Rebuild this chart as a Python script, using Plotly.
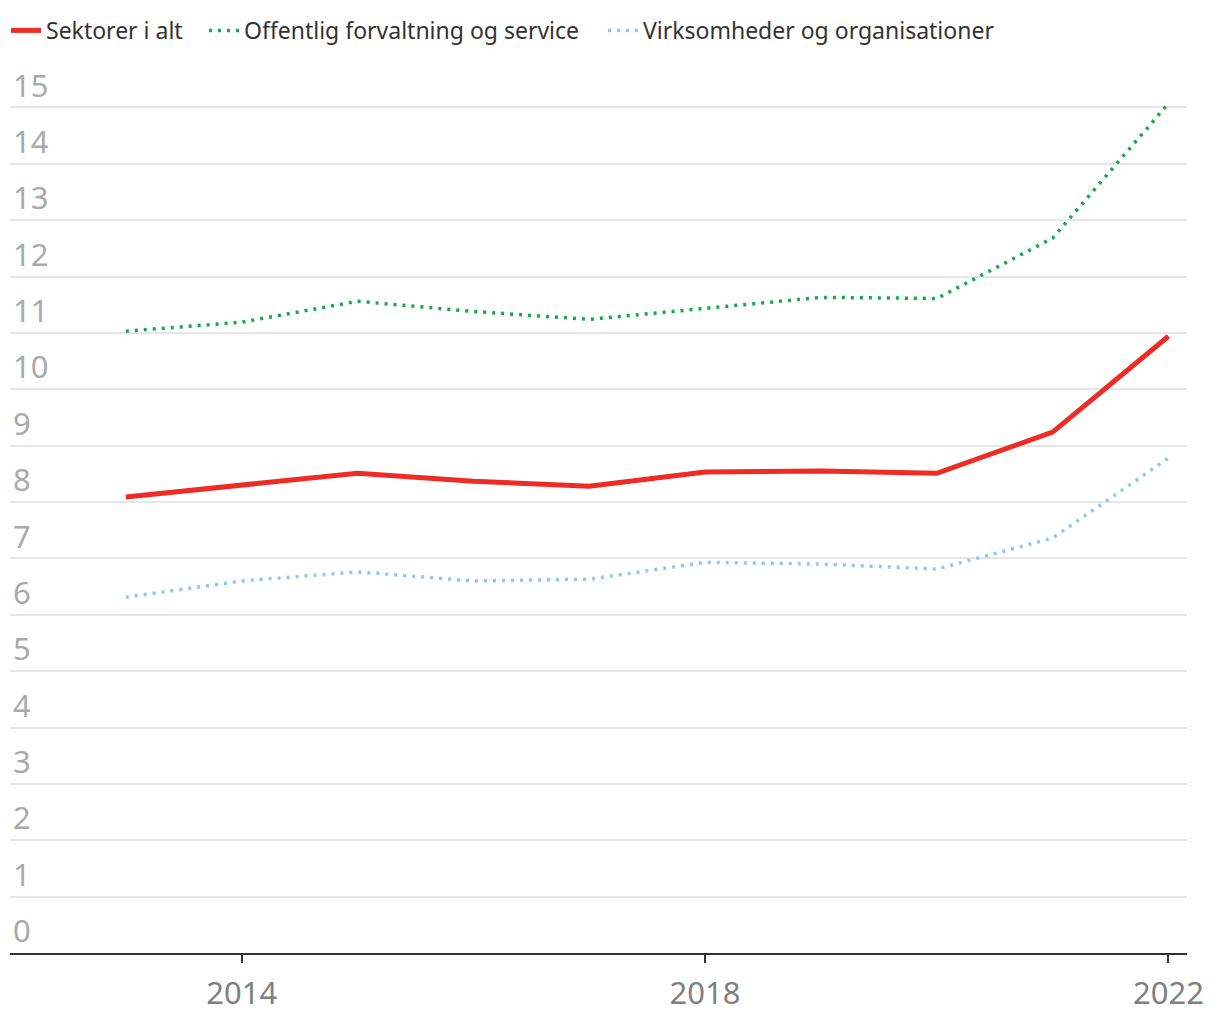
import plotly.graph_objects as go

years = [2013, 2014, 2015, 2016, 2017, 2018, 2019, 2020, 2021, 2022]
sektorer = [8.09, 8.30, 8.51, 8.37, 8.28, 8.53, 8.55, 8.51, 9.24, 10.94]
offentlig = [11.03, 11.19, 11.56, 11.38, 11.24, 11.44, 11.63, 11.61, 12.68, 15.07]
virksomheder = [6.31, 6.60, 6.76, 6.60, 6.63, 6.93, 6.90, 6.81, 7.36, 8.78]

names = ["Sektorer i alt", "Offentlig forvaltning og service", "Virksomheder og organisationer"]
x_ticks = [2014, 2018, 2022]
y_ticks = list(range(0, 16))

fig = go.Figure()
fig.add_trace(go.Scatter(x=years, y=sektorer, name=names[0], mode="lines", legend="legend",
                         line=dict(color="#EE2B24", width=5)))
fig.add_trace(go.Scatter(x=years, y=offentlig, name=names[1], mode="lines", legend="legend2",
                         line=dict(color="#14A84B", width=3.5, dash="3px,6px")))
fig.add_trace(go.Scatter(x=years, y=virksomheder, name=names[2], mode="lines", legend="legend3",
                         line=dict(color="#8CC8F5", width=3.5, dash="3px,6px")))

leg_common = dict(orientation="h", xanchor="left", y=1.0228, yanchor="middle",
                  font=dict(size=23, color="#333"), itemwidth=30,
                  bgcolor="rgba(0,0,0,0)")

fig.update_layout(
    width=1220, height=1020,
    margin=dict(l=2, r=41, t=43, b=75, autoexpand=False),
    paper_bgcolor="white", plot_bgcolor="white",
    font=dict(family="Noto Sans, Roboto, sans-serif", color="#333"),
    showlegend=True,
    legend=dict(x=-0.0034, **leg_common),
    legend2=dict(x=0.1648, **leg_common),
    legend3=dict(x=0.5038, **leg_common),
    xaxis=dict(range=[2012, 2022.16], tickvals=x_ticks, ticktext=[str(v) for v in x_ticks],
               showgrid=False, zeroline=False, showline=True, linecolor="#333", linewidth=2,
               ticks="outside", ticklen=8, tickwidth=2, tickcolor="#333",
               ticklabelstandoff=4,
               tickfont=dict(size=31, color="#808080"), fixedrange=True),
    yaxis=dict(range=[0, 16], tickvals=y_ticks, showgrid=True, gridcolor="#e6e6e6",
               gridwidth=2, zeroline=False, showline=False,
               ticklabelposition="inside top", ticks="",
               tickfont=dict(size=31, color="#aaaaaa"), fixedrange=True),
)

fig.write_html("out.html")
